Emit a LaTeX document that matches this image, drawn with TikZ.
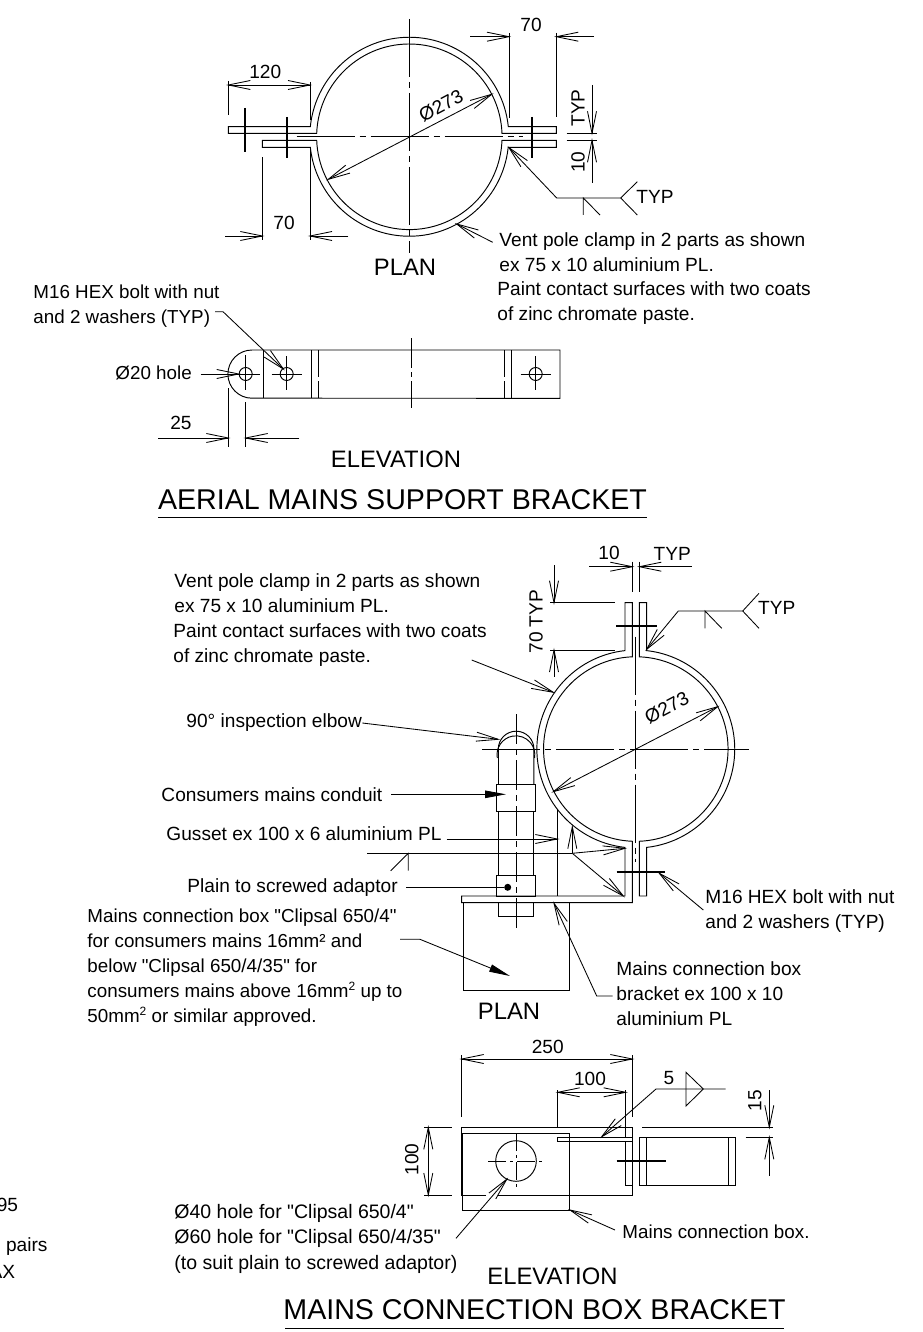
\documentclass[tikz,border=0pt]{standalone}
\usepackage{fontspec}
\setmainfont[Ligatures=TeXOff]{Liberation Sans}
\usetikzlibrary{arrows.meta}
\pgfdeclarearrow{
    name = dimtip,
    setup code = {\pgfarrowssettipend{0pt}\pgfarrowssetlineend{-0.5pt}\pgfarrowssetbackend{-22pt}\pgfarrowssetvisualbackend{-22pt}},
    drawing code = {\pgfsetdash{}{0pt}\pgfpathmoveto{\pgfqpoint{-22pt}{4.5pt}}\pgfpathlineto{\pgfqpoint{0pt}{0pt}}\pgfpathlineto{\pgfqpoint{-22pt}{-4.5pt}}\pgfusepathqstroke}
}
\newcommand{\suptwo}{\raisebox{7pt}{\fontsize{12}{12}\selectfont 2}}
\begin{document}
\begin{tikzpicture}[x=1pt, y=-1pt, line width=0.95pt,
    >={dimtip},
    fill tip/.style = {-{Triangle[length=21pt,width=7.5pt]}},
    txt/.style = {inner sep=0pt, anchor=west, align=left, font=\fontsize{19.1}{25}\selectfont},
    smalltxt/.style = {txt, font=\fontsize{18.8}{25}\selectfont},
    widetxt/.style = {txt, font=\fontsize{19.5}{25}\selectfont},
    dimtxt/.style = {inner sep=0pt, font=\fontsize{19.1}{25}\selectfont},
    head/.style = {inner sep=0pt, font=\fontsize{23.8}{25}\selectfont},
    title/.style = {inner sep=0pt, font=\fontsize{28.6}{30}\selectfont},
    centre/.style = {line width=0.85pt, dash pattern=on 58pt off 5pt on 6pt off 5pt},
    thin/.style = {line width=0.85pt},
    bolt/.style = {line width=1.7pt}]
    \useasboundingbox (0,0) rectangle (922,1332);

    % upper plan
    \draw (228.3,133.3) -- (316.7,133.3) arc[start angle=177.9,end angle=2.1,radius=92.7pt] -- (556.3,133.3) -- (556.3,126.7) -- (508.3,126.7) arc[start angle=5.8,end angle=174.2,radius=99.5pt] -- (228.3,126.7) -- cycle;
    \draw (262.3,140.3) -- (316.7,140.3) arc[start angle=182.1,end angle=357.9,radius=92.7pt] -- (556.3,140.3) -- (556.3,147.3) -- (508.2,147.3) arc[start angle=353.9,end angle=186.1,radius=99.5pt] -- (262.3,147.3) -- cycle;
    \draw[centre] (296.7,136.7) -- (522.7,136.7);
    \draw[centre] (409.3,19) -- (409.3,253);
    \draw[bolt] (245,108) -- (245,152);
    \draw[bolt] (286.7,117) -- (286.7,158);
    \draw[bolt] (532.3,117) -- (532.3,158);

    \node[dimtxt] (p120) at (265.3,72) {120};
    \draw[thin, <->] (228.3,85) -- (310,85);
    \draw[thin] (228.3,81) -- (228.3,115);
    \draw[thin] (310,82) -- (310,120);

    \node[dimtxt] (ptop70) at (531,25) {70};
    \draw[thin, ->] (470,36.7) -- (509,36.7);
    \draw[thin, ->] (594,36.7) -- (556.3,36.7);
    \draw[thin] (509,33) -- (509,118);
    \draw[thin] (556.3,33) -- (556.3,116.7);

    \node[dimtxt, rotate=90] (ptyp) at (578,108) {TYP};
    \node[dimtxt, rotate=90] (p10) at (578,162) {10};
    \draw[thin, ->] (592,85) -- (592,133.3);
    \draw[thin, ->] (592,182.7) -- (592,140.3);
    \draw[thin] (566.7,133.3) -- (597,133.3);
    \draw[thin] (566.7,140.3) -- (597,140.3);

    \node[dimtxt] (pbot70) at (284,223) {70};
    \draw[thin, ->] (225,236) -- (262.3,236);
    \draw[thin, ->] (348.3,236) -- (310,236);
    \draw[thin] (262.3,157.3) -- (262.3,240);
    \draw[thin] (310,147.3) -- (310,240);

    \node[dimtxt, rotate=28] (pdia) at (441,106) {Ø273};
    \draw[thin, <->] (328.3,179.3) -- (491.7,94.3);

    % upper weld
    \node[dimtxt] (ptyp2) at (655,197) {TYP};
    \coordinate (pw1) at (556.7,198);
    \coordinate (pw2) at (620.7,198);
    \draw[thin, ->] (pw2) -- (pw1) -- (509,147.7);
    \draw[thin] (637.3,181.7) -- (pw2) -- (637.3,215);
    \draw[thin] (583.3,215) -- (583.3,198) -- (600,215);

    \node[txt] (pnote) at (499,252) {Vent pole clamp in 2 parts as shown\\ex 75 x 10 aluminium PL.};
    \node[txt] (pnote2) at (497,303.5) {Paint contact surfaces with two coats\\of zinc chromate paste.};
    \draw[thin, ->] (492.7,242.3) -- (456.7,224);
    \node[head] (pplan) at (405,267) {PLAN};

    % upper elevation
    \node[smalltxt] (bolt1) at (33,306) {M16 HEX bolt with nut\\and 2 washers (TYP)};
    \draw[thin, ->] (215,311.7) -- (223,311.7) -- (283.3,369);
    \draw (252,350) arc[start angle=90,end angle=270,radius=24.1pt] -- (560,398.3) -- (560,350) -- cycle;
    \draw (263.3,350) -- (263.3,398.3);
    \draw (311,350) -- (311,398.3);
    \draw (511.7,350) -- (511.7,398.3);
    \draw[dash pattern=on 27pt off 4pt] (318.7,350) -- (318.7,398.3);
    \draw[dash pattern=on 27pt off 4pt] (504,350) -- (504,398.3);
    \node[draw, circle, minimum size=13pt, inner sep=0pt] (h1) at (245.7,374) {};
    \node[draw, circle, minimum size=13pt, inner sep=0pt] (h2) at (286.7,374) {};
    \node[draw, circle, minimum size=13pt, inner sep=0pt] (h3) at (535.7,374) {};
    \draw[thin] (238,374) -- (260,374);
    \draw[thin] (245.7,355) -- (245.7,390);
    \draw[thin] (271.7,374) -- (301.7,374);
    \draw[thin] (286.7,356) -- (286.7,390);
    \draw[thin] (520.7,374) -- (550.7,374);
    \draw[thin] (535.7,356) -- (535.7,390);
    \draw[thin, dash pattern=on 30pt off 4pt on 5pt off 4pt] (411.7,338) -- (411.7,408);

    \node[smalltxt] (holetxt) at (115,373) {Ø20 hole};
    \draw[thin, ->] (200.7,374) -- (h1.west);

    \node[dimtxt] (e25) at (181,423) {25};
    \draw[thin, ->] (158.3,438) -- (228.3,438);
    \draw[thin, ->] (299.3,438) -- (245.7,438);
    \draw[thin] (228.3,388) -- (228.3,447);
    \draw[thin] (245.7,402) -- (245.7,447);

    \node[head] (elev1) at (396,459) {ELEVATION};
    \node[title] (title1) at (402.5,500) {AERIAL MAINS SUPPORT BRACKET};
    \draw (158,517) -- (647,517);

    % lower plan
    \draw (632.3,602.7) -- (632.3,656.8) arc[start angle=92.2,end angle=267.8,radius=92.3pt] -- (632.3,902.7) -- (461.7,902.7) -- (461.7,896) -- (625,896) -- (625,847.4) arc[start angle=263.7,end angle=96.3,radius=99pt] -- (625,602.7) -- cycle;
    \draw (639.3,602.7) -- (639.3,656.8) arc[start angle=87.8,end angle=-87.8,radius=92.3pt] -- (639.3,896) -- (646.6,896) -- (646.6,847.4) arc[start angle=-83.7,end angle=83.7,radius=99pt] -- (646.6,602.7) -- cycle;
    \draw[centre] (482.3,749) -- (749,749);
    \draw[centre] (635.5,636.7) -- (635.5,861.7);
    \draw[bolt] (616,626) -- (657.3,626);
    \draw[bolt] (616.7,871.7) -- (665,871.7);
    \draw (557.3,809) -- (557.3,896);

    % conduit
    \draw (497.3,758) arc[start angle=190,end angle=-10,radius=18.9pt];
    \draw (498.3,749) arc[start angle=180,end angle=0,radius=17.8pt] -- (533.9,784);
    \draw (498.3,749) -- (498.3,784);
    \draw (496.7,784) rectangle (535.7,811.7);
    \draw (498.3,811.7) -- (498.3,875.7);
    \draw (533.3,811.7) -- (533.3,875.7);
    \draw (496.7,875.7) rectangle (535.7,896);
    \draw (498.3,902.7) -- (498.3,916.7) -- (533.3,916.7) -- (533.3,902.7);
    \draw[thin, dash pattern=on 30pt off 5pt on 6pt off 5pt] (516,714) -- (516,928);
    \node[fill=black, circle, minimum size=7pt, inner sep=0pt] (dot) at (507.7,887.3) {};
    \draw (463.3,902.7) -- (463.3,990) -- (569.3,990) -- (569.3,902.7);

    \node[dimtxt] (t10) at (609,553) {10};
    \node[dimtxt] (ttyp) at (672.3,554) {TYP};
    \draw[thin, ->] (589.3,566.7) -- (632.3,566.7);
    \draw[thin, ->] (691.7,566.7) -- (639.3,566.7);
    \draw[thin] (632.3,561.7) -- (632.3,592.3);
    \draw[thin] (639.3,561.7) -- (639.3,592.3);

    \node[dimtxt, rotate=90] (t70) at (536,621.7) {70 TYP};
    \draw[thin, ->] (554,565) -- (554,602.7);
    \draw[thin, ->] (554,676.7) -- (554,650);
    \draw[thin] (550,602.7) -- (615,602.7);
    \draw[thin] (550,650) -- (615,650);

    \node[dimtxt, rotate=28] (tdia) at (666.7,708) {Ø273};
    \draw[thin, <->] (553.3,791.7) -- (717.7,706.7);

    % lower weld
    \node[dimtxt] (ttyp2) at (776.7,608) {TYP};
    \coordinate (tw1) at (678.3,611);
    \coordinate (tw2) at (742.7,611);
    \draw[thin, ->] (tw2) -- (tw1) -- (646.7,649.3);
    \draw[thin] (759,593.3) -- (tw2) -- (759,628.3);
    \draw[thin] (705,628.3) -- (705,611) -- (721.7,628.3);

    \node[txt] (tnote) at (174,593.5) {Vent pole clamp in 2 parts as shown\\ex 75 x 10 aluminium PL.};
    \node[txt] (tnote2) at (173,645) {Paint contact surfaces with two coats\\of zinc chromate paste.};
    \draw[thin, ->] (471.7,660) -- (553.3,692.3);

    \node[txt] (elbow) at (186,723) {90° inspection elbow};
    \draw[thin, ->] (elbow.east) -- (498.3,739.3);
    \node[txt] (cond) at (161,795) {Consumers mains conduit};
    \draw[thin, fill tip] (391,794.3) -- (506,794.3);
    \node[txt] (guss) at (166,833.5) {Gusset ex 100 x 6 aluminium PL};
    \draw[thin, ->] (446.7,839) -- (557.3,839);
    \node[txt] (adapt) at (187,888) {Plain to screwed adaptor};
    \draw[thin] (406,887.3) -- (dot);

    % weld arrows
    \coordinate (gw) at (572.3,853.3);
    \draw[thin] (367.3,853.3) -- (gw);
    \draw[thin, ->] (gw) -- (572.3,826.7);
    \draw[thin, ->] (gw) -- (625,848.3);
    \draw[thin, ->] (gw) -- (623.3,896);
    \draw[thin] (408.3,870.7) -- (408.3,853.3) -- (390.7,870.7);

    \node[smalltxt] (boxtxt) at (87,968) {Mains connection box "Clipsal 650/4"\\for consumers mains 16mm² and\\below "Clipsal 650/4/35" for\\consumers mains above 16mm\suptwo{} up to\\50mm\suptwo{} or similar approved.};
    \draw[thin, fill tip] (400,939.3) -- (420,939.3) -- (510,976);
    \node[txt] (bolt2) at (705,911) {M16 HEX bolt with nut\\and 2 washers (TYP)};
    \draw[thin, ->] (703.3,910) -- (659.3,873.3);
    \node[txt] (brack) at (616,994) {Mains connection box\\bracket ex 100 x 10\\aluminium PL};
    \draw[thin, ->] (612.7,996) -- (596.7,996) -- (554,903.3);
    \node[head] (tplan) at (509,1011) {PLAN};

    % lower elevation
    \node[dimtxt] (e250) at (547.7,1047.3) {250};
    \draw[thin, <->] (461.7,1059) -- (632.3,1059);
    \draw[thin] (461.7,1055) -- (461.7,1116.7);
    \draw[thin] (632.3,1055) -- (632.3,1116.7);
    \node[dimtxt] (e100) at (590,1079.3) {100};
    \draw[thin, <->] (557.7,1092.3) -- (625.7,1092.3);
    \draw[thin] (557.7,1090) -- (557.7,1127.3);
    \draw[thin] (625.7,1090) -- (625.7,1137.3);
    \node[dimtxt, rotate=90] (e15) at (755,1100.7) {15};
    \draw[thin, ->] (769.3,1090) -- (769.3,1127.3);
    \draw[thin, ->] (769.3,1175.7) -- (769.3,1137.3);
    \draw[thin] (642.3,1127.3) -- (773,1127.3);
    \draw[thin] (745.7,1137.3) -- (773,1137.3);
    \node[dimtxt, rotate=90] (e100b) at (411.7,1159.3) {100};
    \draw[thin, <->] (428.3,1127.3) -- (428.3,1195);
    \draw[thin] (424.3,1127.3) -- (451.7,1127.3);
    \draw[thin] (424.3,1195) -- (451.7,1195);

    \draw (486,1195) -- (461.7,1195) -- (461.7,1127.3) -- (632.3,1127.3) -- (632.3,1195) -- (498,1195);
    \draw (462.7,1133.3) rectangle (569.3,1210);
    \draw (557.7,1137.3) rectangle (632.3,1141.7);
    \draw (625,1141.7) -- (625,1185) -- (632.3,1185);
    \node[draw, circle, minimum size=40.6pt, inner sep=0pt] (hole) at (516,1161) {};
    \draw[thin, dash pattern=on 18pt off 4pt on 3pt off 4pt] (488.3,1161) -- (544.3,1161);
    \draw[thin, dash pattern=on 18pt off 4pt on 3pt off 4pt] (516,1133.3) -- (516,1190);
    \draw (639.3,1137.3) rectangle (735.7,1185);
    \draw (646,1137.3) -- (646,1185);
    \draw (728.3,1137.3) -- (728.3,1185);
    \draw[bolt] (616.7,1161) -- (666,1161);

    % 5 weld
    \node[dimtxt] (e5) at (669,1078.3) {5};
    \coordinate (ew1) at (656,1089);
    \draw[thin, ->] (725.7,1089) -- (ew1) -- (601.7,1136.7);
    \draw[thin] (686,1072.3) -- (703.3,1089) -- (686,1106) -- cycle;

    \node[widetxt] (holetxt2) at (174,1239) {Ø40 hole for "Clipsal 650/4"\\Ø60 hole for "Clipsal 650/4/35"\\[1.5pt](to suit plain to screwed adaptor)};
    \draw[thin, ->] (456,1238.3) -- (506.7,1179.3);
    \node[smalltxt] (boxtxt2) at (622,1232) {Mains connection box.};
    \draw[thin, ->] (615,1230) -- (570,1210);
    \node[head] (elev2) at (552.5,1276) {ELEVATION};
    \node[title] (title2) at (534.5,1310) {MAINS CONNECTION BOX BRACKET};
    \draw (285,1328) -- (784,1328);

    % cut off at the sheet edge
    \node[dimtxt, anchor=east] (cut1) at (18.5,1205) {95};
    \node[dimtxt, anchor=east] (cut2) at (48,1247) {n pairs};
    \node[dimtxt, anchor=east] (cut3) at (15.5,1272) {AX};
\end{tikzpicture}
\end{document}
